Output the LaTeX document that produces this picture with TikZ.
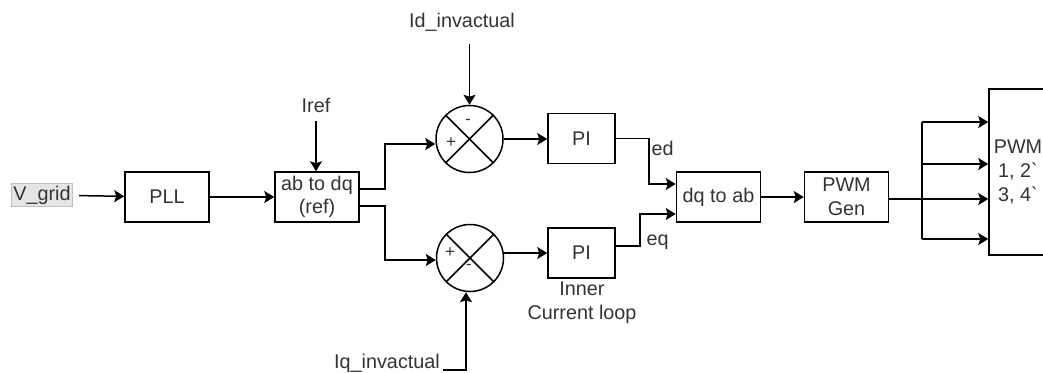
\documentclass[tikz,border=0pt]{standalone}
\usepackage{fontspec}
\setmainfont{Liberation Sans}
\usetikzlibrary{arrows.meta,calc}

\begin{document}
\begin{tikzpicture}[x=0.5pt, y=-0.5pt, line width=0.75pt,
  >={Stealth[length=5pt,width=6pt,inset=1pt]},
  every node/.style={font=\fontsize{9.9}{11.8}\selectfont, text=black!80},
  block/.style={draw=black, rectangle, align=center, minimum width=42pt, minimum height=25pt, inner sep=1pt},
  summer/.style={draw=black, circle, minimum size=33.5pt, inner sep=0pt},
  sign/.style={font=\fontsize{8.5}{9}\selectfont, inner sep=0pt},
  lbl/.style={inner sep=1pt}]
  \useasboundingbox (0,0) rectangle (1043,372);

  \node[fill=black!10, draw=black!25, line width=0.4pt, inner sep=1pt] (vgrid) at (42,195) {V\_grid};
  \node[block] (pll) at (167,197) {PLL};
  \node[block] (abdq) at (317,197) {ab to dq\\(ref)};
  \node[lbl] (iref) at (316,105) {Iref};
  \node[summer] (sum1) at (469.5,139) {};
  \node[lbl] (idact) at (462,22) {Id\_invactual};
  \node[summer] (sum2) at (470,258) {};
  \node[lbl] (iqact) at (387,363) {Iq\_invactual};
  \node[block, minimum width=33.5pt] (pi1) at (581.5,138.5) {PI};
  \node[block, minimum width=33.5pt] (pi2) at (581.5,253) {PI};
  \node[align=center] (inner) at (582,303) {Inner\\Current loop};
  \node[block] (dqab) at (718.5,197) {dq to ab};
  \node[block] (pwmgen) at (846.5,197) {PWM\\Gen};
  \node[block, minimum width=29pt, minimum height=83pt] (pwm) at (1018,172) {PWM\\1, 2\textasciigrave\\3, 4\textasciigrave};

  % summing junctions
  \draw (sum1.north west) -- (sum1.south east) (sum1.north east) -- (sum1.south west);
  \draw (sum2.north west) -- (sum2.south east) (sum2.north east) -- (sum2.south west);
  \node[sign] (s1m) at ($(sum1)+(-1.5,-17)$) {-};
  \node[sign] (s1p) at ($(sum1)+(-18.5,4)$) {+};
  \node[sign] (s2p) at ($(sum2)+(-20,-5)$) {+};
  \node[sign] (s2m) at ($(sum2)+(-1,9)$) {-};

  \draw[->, shorten <=3pt] (vgrid) -- (pll);
  \draw[->] (pll) -- (abdq);
  \draw[->, shorten <=3pt] (iref.south) -- (iref.south |- abdq.north);
  \draw[->] ([yshift=4pt]abdq.east) -- ++(25,0) |- ([yshift=-2.5pt]sum1.west);
  \draw[->] ([yshift=-4.5pt]abdq.east) -- ++(25,0) |- ([yshift=-1pt]sum2.west);
  \draw[->, shorten <=5pt] (sum1.north |- idact.south) -- (sum1.north);
  \draw[->] ([yshift=-1pt]iqact.base east) -| ([xshift=-2pt]sum2.south);
  \draw[->] (sum1.east) -- (sum1.east -| pi1.west);
  \draw[->] (sum2.east |- pi2.west) -- (pi2.west);

  \draw[->] (pi1.east) -- ++(33,0) node[below right, lbl] (edlbl) {ed} |- ([yshift=6.5pt]dqab.west);
  \draw[->] ([yshift=3.5pt]pi2.east) -- ++(24,0) node[right, inner sep=3pt, yshift=2pt] (eqlbl) {eq} |- ([yshift=-8.5pt]dqab.west);
  \draw[->] (dqab) -- (pwmgen);

  % gate signal bus
  \coordinate (bustop) at (922,122);
  \coordinate (busbot) at (922,239);
  \draw ([yshift=-1pt]pwmgen.east) -- ([yshift=-1pt]pwmgen.east -| bustop);
  \draw (bustop) -- (busbot);
  \foreach \yy in {122,164,199,239}
    \draw[->] (bustop |- 0,\yy) -- (pwm.west |- 0,\yy);
\end{tikzpicture}
\end{document}
